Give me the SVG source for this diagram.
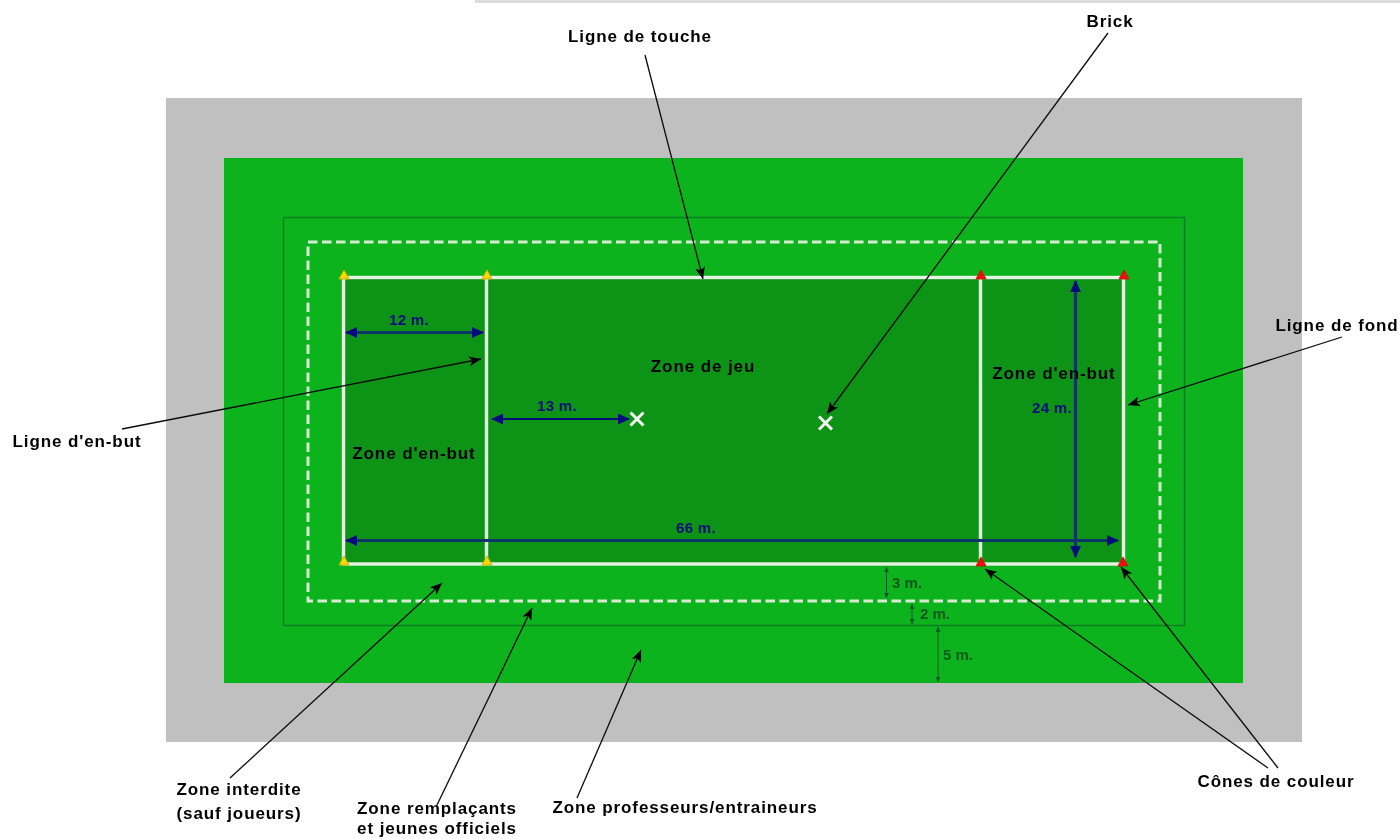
<svg xmlns="http://www.w3.org/2000/svg" width="1400" height="839" viewBox="0 0 1400 839">
<style>
text{font-family:"Liberation Sans",Arial,sans-serif;font-size:17px;letter-spacing:.9px;fill:#000;font-weight:bold;text-anchor:middle}
.d{fill:#000f78;font-size:15px;letter-spacing:.3px}
.s{fill:#0a5a1e;font-size:15px;font-weight:bold;text-anchor:start;letter-spacing:0}
.w{fill:none;stroke:#e6f2e2;stroke-width:3.4}
.c{stroke:#0a0a0a;stroke-width:1.3;fill:none;marker-end:url(#a)}
.n{stroke:#0a3568;stroke-width:3.2;fill:none;marker-start:url(#b);marker-end:url(#b)}
.n2{stroke:#00107a;stroke-width:2.2;fill:none;marker-start:url(#b);marker-end:url(#b)}
.g{stroke:#0a5a22;stroke-width:1;fill:none;marker-start:url(#g);marker-end:url(#g)}
.x{stroke:#f4f8f2;stroke-width:3}
.ty{fill:#ffd800;stroke:#c8b000;stroke-width:1}
.tr{fill:#f00c0c;stroke:#c02010;stroke-width:1}
</style>
<defs>
<filter id="soft" x="0" y="0" width="100%" height="100%"><feGaussianBlur stdDeviation="0.7"/></filter>
<marker id="a" markerUnits="userSpaceOnUse" markerWidth="14" markerHeight="10" refX="12" refY="5" orient="auto"><path d="M0 0L12 5L0 10L3 5Z" fill="#000"/></marker>
<marker id="b" markerUnits="userSpaceOnUse" markerWidth="13" markerHeight="11" refX="11" refY="5.5" orient="auto-start-reverse"><path d="M0 0L12 5.5L0 11Z" fill="#00107a"/></marker>
<marker id="g" markerUnits="userSpaceOnUse" markerWidth="6" markerHeight="5" refX="5" refY="2.5" orient="auto-start-reverse"><path d="M0 0L5 2.5L0 5Z" fill="#0a5a22"/></marker>
</defs>
<rect width="1400" height="839" fill="#fff"/>
<g filter="url(#soft)">
<rect x="475" y="-2" width="927" height="5" fill="#dcdcdc"/>
<rect x="166" y="98" width="1136" height="644" fill="#c0c0c0"/>
<rect x="224" y="158" width="1019" height="525" fill="#0ab31e"/>
<rect x="283.500" y="217.500" width="901" height="408" fill="none" stroke="#0d7d26" stroke-width="1.500"/>
<rect x="343" y="277" width="781" height="287" fill="#0c9318"/>
<rect x="308" y="242" width="852" height="359" fill="none" stroke="#d4ecd0" stroke-width="3" stroke-dasharray="9.500 4.500"/>
<g id="field-lines">
<rect class="w" x="343.500" y="277.500" width="780" height="286.500"/>
<path class="w" d="M486.500 277V564M980.500 277V564"/>
</g>
<g id="cones">
<path class="ty" d="M339 279L344 270L349 279Z"/><path class="ty" d="M482 279L487 270L492 279Z"/>
<path class="ty" d="M339 565L344 556L349 565Z"/><path class="ty" d="M482 565L487 556L492 565Z"/>
<path class="tr" d="M976 279L981 270L986 279Z"/><path class="tr" d="M1119 279L1124 270L1129 279Z"/>
<path class="tr" d="M976 566L981 557L986 566Z"/><path class="tr" d="M1118 566L1123 557L1128 566Z"/>
</g>
<g id="bricks">
<path class="x" d="M630.500 412.500L643.500 425.500M643.500 412.500L630.500 425.500"/>
<path class="x" d="M819 416.500L832 429.500M832 416.500L819 429.500"/>
</g>
<g id="dimensions">
<path class="n" d="M346 332.500H483"/>
<path class="n2" d="M492 419H629"/>
<path class="n" d="M346 540.500H1118"/>
<path class="n" d="M1075.500 281V557"/>
<path class="g" d="M886.500 567V598"/>
<path class="g" d="M912 604V624"/>
<path class="g" d="M938 627V682"/>
</g>
<g id="connectors">
<path class="c" d="M645 55L703 279"/>
<path class="c" d="M1108 33L827 414"/>
<path class="c" d="M1342 337L1128 405"/>
<path class="c" d="M122 429L481 359"/>
<path class="c" d="M230 778L442 583"/>
<path class="c" d="M437 805L532 608"/>
<path class="c" d="M577 798L641 650"/>
<path class="c" d="M1268 768L985 569"/>
<path class="c" d="M1278 768L1121 567"/>
</g>
<g id="labels">
<text x="640" y="42">Ligne de touche</text>
<text x="1110" y="27">Brick</text>
<text x="1337" y="331">Ligne de fond</text>
<text x="77" y="447">Ligne d'en-but</text>
<text x="703" y="372">Zone de jeu</text>
<text x="414" y="459">Zone d'en-but</text>
<text x="1054" y="379">Zone d'en-but</text>
<text x="239" y="795">Zone interdite</text>
<text x="239" y="819">(sauf joueurs)</text>
<text x="437" y="814">Zone remplaçants</text>
<text x="437" y="834">et jeunes officiels</text>
<text x="685" y="813">Zone professeurs/entraineurs</text>
<text x="1276" y="787">Cônes de couleur</text>
</g>
<g id="dimension-labels">
<text class="d" x="409" y="325">12 m.</text>
<text class="d" x="557" y="411">13 m.</text>
<text class="d" x="696" y="533">66 m.</text>
<text class="d" x="1052" y="413">24 m.</text>
<text class="s" x="892" y="588">3 m.</text>
<text class="s" x="920" y="619">2 m.</text>
<text class="s" x="943" y="660">5 m.</text>
</g>
</g>
</svg>
